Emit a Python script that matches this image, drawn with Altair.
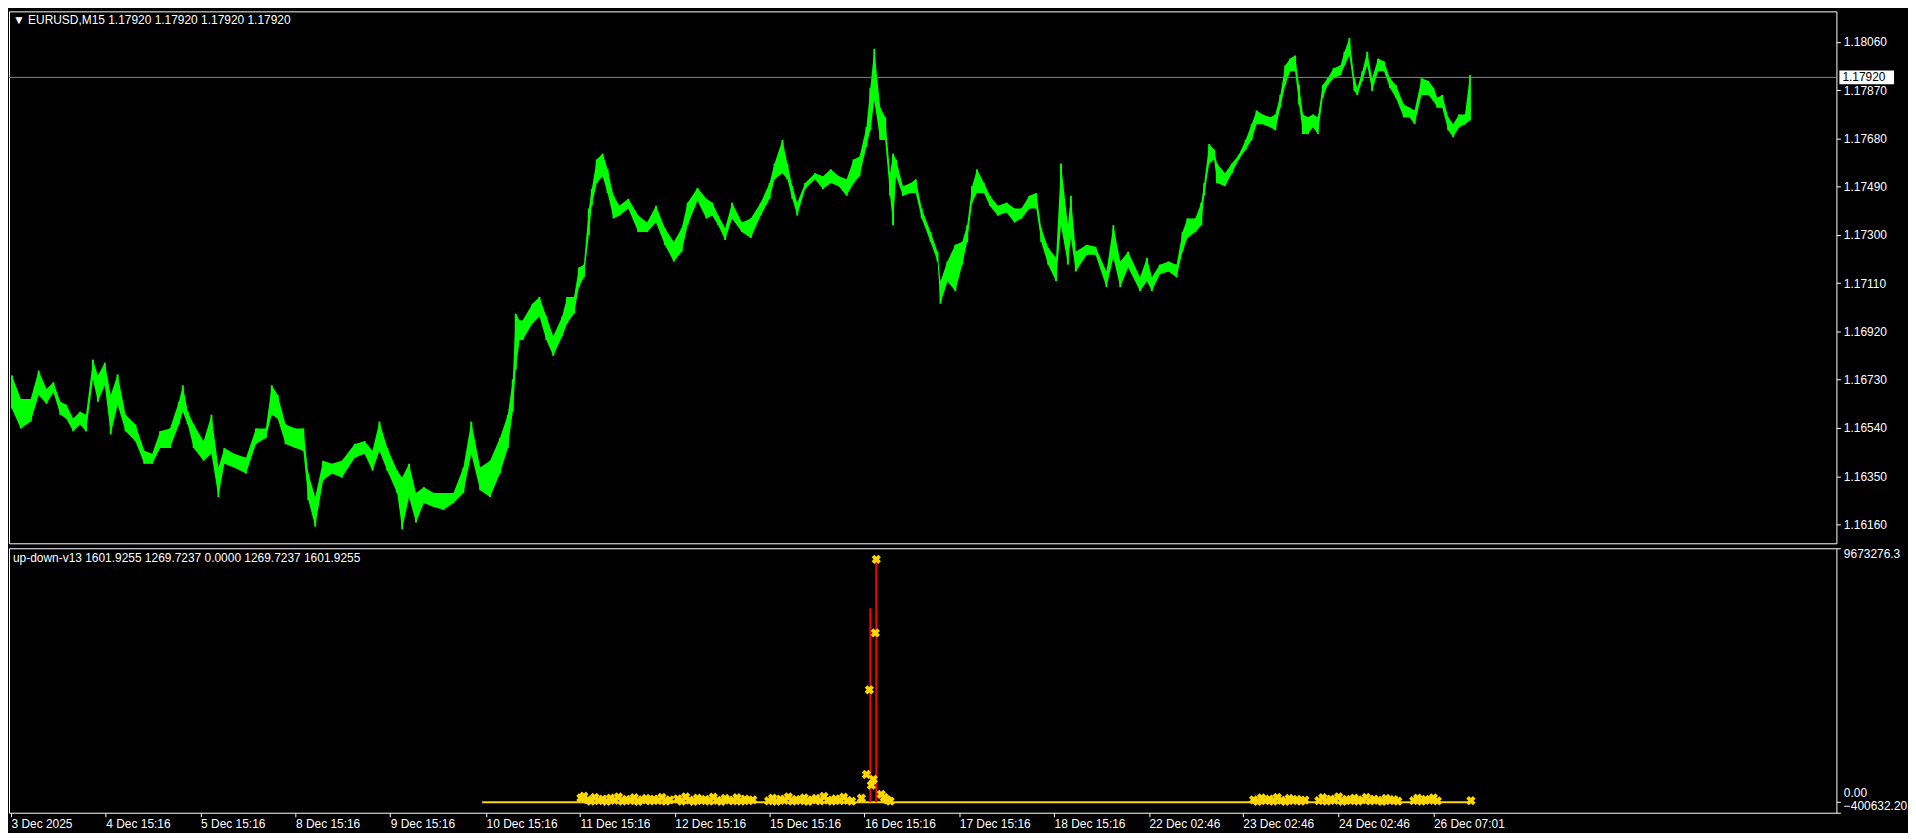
import altair as alt
import pandas as pd

# ---------------- price data (bar index ~ position, high / low envelope) -------------
bar_x = [3,12,22,30,38,45,52,58,65,72,78,85,90,97,103,110,118,128,137,145,153,163,172,176,181,187,197,205,212,218,228,240,250,260,266,272,280,290,298,303,310,318,327,337,350,360,368,375,383,393,398,405,412,420,430,440,450,460,468,477,487,497,505,510,513,517,520,530,537,544,551,560,565,572,577,582,587,590,595,601,606,612,618,627,637,646,655,664,673,681,687,697,706,712,718,725,732,742,751,761,770,775,783,788,793,798,806,816,824,832,840,848,855,861,868,872,876,882,887,892,895,898,905,913,918,924,933,940,943,950,958,965,970,975,980,987,993,1001,1010,1018,1025,1033,1040,1045,1052,1060,1065,1072,1075,1080,1091,1100,1111,1118,1125,1133,1145,1152,1157,1165,1174,1182,1188,1193,1201,1207,1210,1215,1220,1223,1231,1238,1245,1252,1258,1263,1269,1277,1282,1287,1292,1297,1302,1306,1310,1315,1320,1325,1330,1335,1341,1348,1352,1357,1362,1365,1370,1375,1380,1386,1392,1398,1404,1412,1418,1423,1430,1437,1442,1446,1451,1457,1462,1468,1474,1479]

bar_hi = [1.16747,1.16654,1.16654,1.16766,1.16693,1.16720,1.16643,1.16631,1.16577,1.16604,
          1.16592,1.16809,1.16747,1.16797,1.16670,1.16751,1.16592,1.16554,1.16450,1.16438,
          1.16527,1.16538,1.16643,1.16708,1.16604,1.16554,1.16488,1.16592,1.16384,1.16461,
          1.16438,1.16423,1.16538,1.16538,1.16708,1.16670,1.16554,1.16538,1.16538,1.16361,
          1.16268,1.16411,1.16399,1.16411,1.16477,1.16488,1.16450,1.16565,1.16461,1.16372,
          1.16345,1.16399,1.16284,1.16307,1.16284,1.16284,1.16284,1.16384,1.16565,1.16384,
          1.16411,1.16500,1.16592,1.16731,1.16990,1.16963,1.16963,1.17029,1.17056,1.16979,
          1.16901,1.16979,1.17056,1.17056,1.17172,1.17183,1.17404,1.17481,1.17597,1.17620,
          1.17558,1.17454,1.17415,1.17442,1.17376,1.17349,1.17415,1.17326,1.17272,1.17326,
          1.17427,1.17485,1.17442,1.17427,1.17376,1.17326,1.17427,1.17349,1.17365,1.17427,
          1.17504,1.17581,1.17674,1.17581,1.17492,1.17427,1.17504,1.17543,1.17531,1.17558,
          1.17531,1.17519,1.17597,1.17608,1.17724,1.17879,1.18033,1.17801,1.17763,1.17543,
          1.17620,1.17597,1.17492,1.17504,1.17519,1.17404,1.17311,1.17234,1.17118,1.17195,
          1.17261,1.17272,1.17338,1.17492,1.17558,1.17504,1.17454,1.17415,1.17427,1.17404,
          1.17404,1.17454,1.17465,1.17326,1.17249,1.17210,1.17581,1.17338,1.17454,1.17234,
          1.17261,1.17253,1.17156,1.17338,1.17195,1.17234,1.17133,1.17210,1.17133,1.17183,
          1.17195,1.17183,1.17311,1.17365,1.17365,1.17427,1.17504,1.17658,1.17635,1.17581,
          1.17543,1.17581,1.17616,1.17674,1.17736,1.17790,1.17774,1.17763,1.17774,1.17851,
          1.17967,1.17994,1.18006,1.17890,1.17774,1.17763,1.17774,1.17763,1.17890,1.17917,
          1.17956,1.17967,1.18021,1.18075,1.17917,1.17879,1.17944,1.18021,1.17917,1.17994,
          1.17983,1.17917,1.17890,1.17813,1.17801,1.17790,1.17917,1.17906,1.17879,1.17840,
          1.17851,1.17763,1.17736,1.17774,1.17774,1.17929]

bar_lo = [1.16616,1.16538,1.16565,1.16670,1.16635,1.16681,1.16592,1.16577,1.16527,1.16554,
          1.16527,1.16731,1.16643,1.16708,1.16515,1.16631,1.16527,1.16488,1.16399,1.16399,
          1.16461,1.16461,1.16554,1.16604,1.16554,1.16461,1.16411,1.16438,1.16268,1.16399,
          1.16384,1.16361,1.16477,1.16500,1.16592,1.16577,1.16477,1.16461,1.16450,1.16256,
          1.16152,1.16334,1.16361,1.16345,1.16423,1.16438,1.16372,1.16450,1.16372,1.16284,
          1.16141,1.16268,1.16168,1.16245,1.16229,1.16218,1.16245,1.16284,1.16438,1.16295,
          1.16268,1.16361,1.16461,1.16604,1.16770,1.16886,1.16886,1.16952,1.16979,1.16886,
          1.16824,1.16901,1.16952,1.16990,1.17095,1.17133,1.17299,1.17415,1.17504,1.17531,
          1.17465,1.17365,1.17376,1.17404,1.17311,1.17311,1.17349,1.17261,1.17195,1.17234,
          1.17338,1.17434,1.17365,1.17376,1.17338,1.17280,1.17365,1.17311,1.17288,1.17376,
          1.17442,1.17519,1.17543,1.17519,1.17442,1.17376,1.17481,1.17519,1.17481,1.17504,
          1.17492,1.17454,1.17504,1.17531,1.17647,1.17712,1.17828,1.17674,1.17674,1.17454,
          1.17338,1.17531,1.17454,1.17465,1.17465,1.17365,1.17272,1.17195,1.17029,1.17118,
          1.17079,1.17183,1.17272,1.17427,1.17465,1.17465,1.17415,1.17376,1.17388,1.17349,
          1.17365,1.17404,1.17404,1.17272,1.17183,1.17118,1.17338,1.17183,1.17288,1.17156,
          1.17222,1.17222,1.17095,1.17210,1.17095,1.17172,1.17079,1.17118,1.17079,1.17145,
          1.17156,1.17133,1.17234,1.17288,1.17311,1.17338,1.17454,1.17581,1.17597,1.17504,
          1.17492,1.17543,1.17597,1.17635,1.17674,1.17736,1.17736,1.17724,1.17712,1.17801,
          1.17890,1.17944,1.17944,1.17813,1.17697,1.17697,1.17724,1.17697,1.17840,1.17890,
          1.17917,1.17929,1.17967,1.18006,1.17867,1.17851,1.17906,1.17967,1.17867,1.17944,
          1.17944,1.17879,1.17840,1.17763,1.17763,1.17736,1.17851,1.17851,1.17828,1.17801,
          1.17801,1.17712,1.17685,1.17724,1.17736,1.17751]

current_price = 1.17920
price_ticks = [1.16160, 1.16350, 1.16540, 1.16730, 1.16920, 1.17110,
               1.17300, 1.17490, 1.17680, 1.17870, 1.18060]
price_domain = [1.16086, 1.18180]

# ---------------- indicator data -------------
ind_line_x = [479, 1481]
ind_line_v = [0, 0]

red_x = [872, 878]
red_v = [7390000, 9250000]

cross_x = [579,582,586,589,593,597,601,605,609,613,617,621,625,629,633,637,641,645,649,653,657,661,665,669,
           677,681,685,689,693,697,701,705,709,713,717,721,725,729,733,737,741,745,749,753,
           769,773,777,781,785,789,793,797,801,805,809,813,817,821,825,829,833,837,841,845,849,853,
           863,868,871,873,875,877,878,883,886,889,892,
           1260,1264,1268,1272,1276,1280,1284,1288,1292,1296,1300,1304,1308,1312,
           1326,1330,1334,1338,1342,1346,1350,1354,1358,1362,1366,1370,1374,1378,1382,1386,1390,1394,1398,1402,1406,
           1422,1426,1430,1434,1438,1442,1446,1480]
cross_v = [160000,230000,90000,40000,180000,60000,120000,30000,150000,70000,200000,40000,110000,60000,170000,30000,90000,140000,50000,120000,60000,180000,40000,90000,
           130000,40000,200000,80000,30000,150000,60000,110000,40000,190000,70000,30000,140000,80000,50000,170000,40000,120000,60000,90000,
           50000,150000,30000,120000,70000,200000,40000,110000,60000,160000,30000,90000,140000,50000,220000,80000,40000,130000,60000,190000,70000,40000,
           150000,1060000,4280000,650000,870000,6450000,9250000,300000,180000,90000,40000,
           90000,30000,160000,60000,120000,40000,180000,70000,30000,140000,60000,110000,40000,80000,
           60000,170000,40000,120000,70000,200000,30000,110000,60000,150000,40000,90000,180000,50000,120000,70000,30000,140000,60000,100000,40000,
           60000,150000,40000,110000,70000,160000,50000,60000]
ind_max = 9673276.3
ind_min = -400632.2

x_tick_pos = [2, 98, 194, 290, 386, 483, 578, 674, 770, 866, 962, 1058, 1154, 1249, 1346, 1442]
x_tick_lab = ["3 Dec 2025", "4 Dec 15:16", "5 Dec 15:16", "8 Dec 15:16", "9 Dec 15:16",
              "10 Dec 15:16", "11 Dec 15:16", "12 Dec 15:16", "15 Dec 15:16", "16 Dec 15:16",
              "17 Dec 15:16", "18 Dec 15:16", "22 Dec 02:46", "23 Dec 02:46", "24 Dec 02:46",
              "26 Dec 07:01"]

main_title = "\u25bc EURUSD,M15  1.17920 1.17920 1.17920 1.17920"
ind_title = "up-down-v13 1601.9255 1269.7237 0.0000 1269.7237 1601.9255"

# ---------------- layout -------------
W = 1838
H_MAIN = 535
H_IND = 266
X_DOMAIN = [0, 1850]
FONT = "Liberation Sans"
FRAME = alt.ViewBackground(stroke="white", strokeWidth=1)

price_df = pd.DataFrame({"x": bar_x, "hi": bar_hi, "lo": bar_lo})
cur_df = pd.DataFrame({"p": [current_price], "t": [f"{current_price:.5f}"]})

xs = alt.Scale(domain=X_DOMAIN, nice=False, zero=False)
ys = alt.Scale(domain=price_domain, nice=False, zero=False)

area = alt.Chart(price_df).mark_area(color="#00ff00", interpolate="linear").encode(
    x=alt.X("x:Q", scale=xs, axis=None),
    y=alt.Y("lo:Q", scale=ys, axis=alt.Axis(orient="right", values=price_ticks, format=".5f",
                                             title=None, labelPadding=3)),
    y2="hi:Q",
)
edges = alt.Chart(price_df).mark_rule(color="#00ff00", strokeWidth=2).encode(
    x="x:Q", y="lo:Q", y2="hi:Q"
)
cur_line = alt.Chart(cur_df).mark_rule(color="#778899", strokeWidth=1).encode(y="p:Q")
cur_box = alt.Chart(cur_df).mark_rule(color="white", strokeWidth=14).encode(
    x=alt.value(W + 3), x2=alt.value(W + 58), y="p:Q"
)
cur_txt = alt.Chart(cur_df).mark_text(align="left", baseline="middle", color="black",
                                      font=FONT, fontSize=12).encode(
    x=alt.value(W + 6), y="p:Q", text="t:N"
)
title_txt = alt.Chart(pd.DataFrame({"t": [main_title]})).mark_text(
    align="left", baseline="middle", color="white", font=FONT, fontSize=12
).encode(x=alt.value(4), y=alt.value(9), text="t:N")

main = alt.layer(area, edges, cur_line, cur_box, cur_txt, title_txt).properties(
    width=W, height=H_MAIN, view=FRAME
)

ind_ys = alt.Scale(domain=[ind_min, ind_max], nice=False, zero=False)
line_df = pd.DataFrame({"x": ind_line_x, "v": ind_line_v})
red_df = pd.DataFrame({"x": red_x, "v": red_v, "z": [0] * len(red_x)})
cross_df = pd.DataFrame({"x": cross_x, "v": cross_v})

ind_line = alt.Chart(line_df).mark_line(color="#ffd700", strokeWidth=2).encode(
    x=alt.X("x:Q", scale=xs, axis=alt.Axis(
        values=x_tick_pos, title=None, labelAlign="left", labelPadding=2, labelFlush=False,
        labelOverlap=False,
        labelExpr="[" + ",".join(f"'{s}'" for s in x_tick_lab) + "][indexof([" +
                  ",".join(str(v) for v in x_tick_pos) + "], datum.value)]")),
    y=alt.Y("v:Q", scale=ind_ys, axis=alt.Axis(
        orient="right", values=[ind_max, 0, ind_min], title=None, labelFlush=True,
        labelOverlap=False, labelPadding=3, labelLimit=70,
        labelOffset={"condition": {"test": "datum.value == 0", "value": -10}, "value": 0},
        labelExpr="datum.value == 0 ? '0.00' : (datum.value < 0 ? format(datum.value, '.2f') : format(datum.value, '.1f'))")),
)
red = alt.Chart(red_df).mark_rule(color="#ff0000", strokeWidth=2).encode(
    x="x:Q", y="z:Q", y2="v:Q"
)
crosses = alt.Chart(cross_df).mark_point(shape="cross", angle=45, filled=True, size=90,
                                          color="#ffd700", opacity=1).encode(
    x="x:Q", y="v:Q"
)
ind_title_txt = alt.Chart(pd.DataFrame({"t": [ind_title]})).mark_text(
    align="left", baseline="middle", color="white", font=FONT, fontSize=12
).encode(x=alt.value(4), y=alt.value(10), text="t:N")

ind = alt.layer(ind_line, red, crosses, ind_title_txt).properties(
    width=W, height=H_IND, view=FRAME
)

chart = alt.vconcat(main, ind, spacing=2).configure(
    background="black", padding=0
).configure_view(
    stroke="transparent", strokeWidth=0
).configure_axis(
    labelColor="white", tickColor="white", domain=False, grid=False,
    labelFont=FONT, labelFontSize=12, tickSize=4
)

chart.save("out.html", embed_options={"renderer": "svg", "actions": False})
